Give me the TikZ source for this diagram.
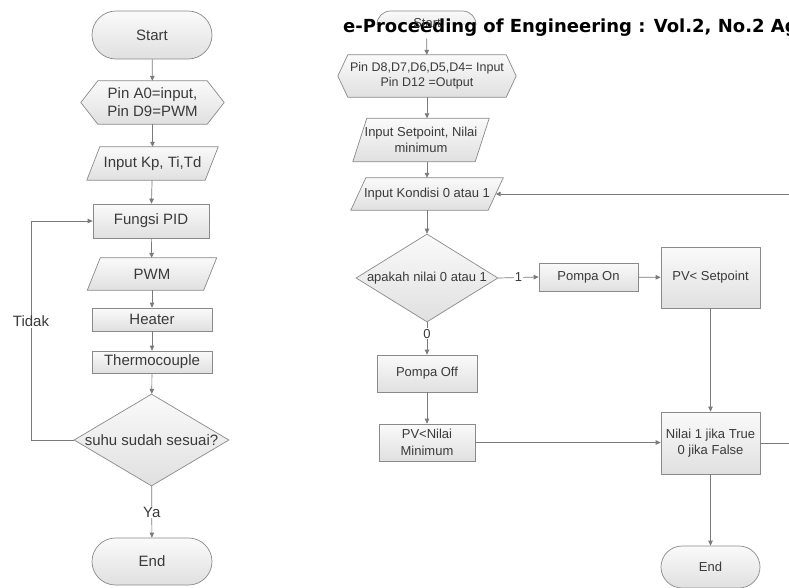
\documentclass[tikz,border=0pt]{standalone}
\usepackage{fontspec}
\setmainfont{Liberation Sans}
\newfontfamily\hdrfont{DejaVu Sans}
\usetikzlibrary{shapes.misc,shapes.geometric,arrows.meta,backgrounds,calc}
\definecolor{bord}{HTML}{8A8A8A}
\definecolor{lin}{HTML}{7A7A7A}
\definecolor{txt}{HTML}{3A3A3A}
\definecolor{ftop}{HTML}{FAFAFA}
\definecolor{fbot}{HTML}{E0E0E0}
\tikzset{
 bx/.style={draw=bord, line width=0.7pt, top color=ftop, bottom color=fbot, text=txt, align=center, inner sep=0pt},
 ftl/.style={font=\fontsize{15}{18}\selectfont},
 ftr/.style={font=\fontsize{13}{16.5}\selectfont},
 term/.style={bx, rounded rectangle},
 proc/.style={bx, rectangle},
 dia/.style={bx, diamond},
 anch/.style={rectangle, draw=none, inner sep=0pt, text=txt, align=center},
 lbl/.style={text=txt, inner sep=1pt},
 shp/.style={draw=bord, line width=0.7pt, top color=ftop, bottom color=fbot},
 arr/.style={draw=lin, line width=0.7pt, -{Triangle[length=5pt,width=4.5pt]}},
}
\newcommand{\myhex}[2]{\path[shp] (#1.north west) -- (#1.north east) -- ($(#1.east)+(#2,0)$) -- (#1.south east) -- (#1.south west) -- ($(#1.west)-(#2,0)$) -- cycle;}
\newcommand{\mypara}[2]{\path[shp] ($(#1.south west)-(#2/2,0)$) -- ($(#1.north west)+(#2/2,0)$) -- ($(#1.north east)+(#2/2,0)$) -- ($(#1.south east)-(#2/2,0)$) -- cycle;}
\begin{document}
\begin{tikzpicture}[x=1pt,y=-1pt]
\useasboundingbox (0,0) rectangle (789,587);
% ---------- left flowchart ----------
\node[term, ftl, minimum width=120pt, minimum height=48pt] (s1) at (152,35) {Start};
\node[anch, ftl, minimum width=109pt, minimum height=43pt] (h1) at (152.5,102.5) {Pin A0=input,\\Pin D9=PWM};
\node[anch, ftl, minimum width=118pt, minimum height=33pt] (kp) at (152.5,163.5) {Input Kp, Ti,Td};
\node[proc, ftl, minimum width=116pt, minimum height=34pt] (pid) at (151,221) {Fungsi PID};
\node[anch, ftl, minimum width=116pt, minimum height=32pt] (pwm) at (152,274) {PWM};
\node[proc, ftl, minimum width=120pt, minimum height=23pt] (heat) at (152,319.5) {Heater};
\node[proc, ftl, minimum width=120pt, minimum height=22pt] (thermo) at (152,362) {Thermocouple};
\node[dia, minimum width=155pt, minimum height=92pt] (d1) at (151.5,440) {};
\node[anch, ftl] (d1t) at (d1) {suhu sudah sesuai?};
\node[term, ftl, minimum width=120pt, minimum height=47pt] (e1) at (152,561.5) {End};
\draw[arr] (s1) -- (h1);
\draw[arr] (h1) -- (kp);
\draw[arr] (kp) -- (pid);
\draw[arr] (pid) -- (pwm);
\draw[arr] (pwm) -- (heat);
\draw[arr] (heat) -- (thermo);
\draw[arr] (thermo) -- (d1);
\draw[arr] (d1) -- node[lbl, ftl, fill=white] (ya) {Ya} (e1);
\draw[arr] (d1.west) -- ++(-42,0) |- (pid.west);
\node[lbl, ftl, fill=white] (tidak) at (31,321) {Tidak};
% ---------- right flowchart ----------
\node[term, minimum width=99pt, minimum height=27pt] (s2) at (426.5,24.5) {};
\node[anchor=base west, inner sep=0pt, fill=white, text height=8pt, text depth=6.5pt, font=\hdrfont\bfseries\fontsize{18}{20}\selectfont] (hdr) at (343,32.5) {e-Proceeding of Engineering : Vol.2, No.2 Ag};
\node[anch, ftr] (s2t) at (427,23) {Start};
\node[anch, ftr, minimum width=158pt, minimum height=42pt, font=\fontsize{12.5}{14.5}\selectfont] (h2) at (427,76) {Pin D8,D7,D6,D5,D4= Input\\Pin D12 =Output};
\node[anch, ftr, minimum width=122pt, minimum height=43pt] (p2) at (421,140) {Input Setpoint, Nilai\\minimum};
\node[anch, ftr, minimum width=137pt, minimum height=32pt] (p3) at (427,194) {Input Kondisi 0 atau 1};
\node[dia, minimum width=142pt, minimum height=88pt] (d2) at (427,278) {};
\node[anch, ftr] (d2t) at (d2) {apakah nilai 0 atau 1};
\node[proc, ftr, minimum width=99pt, minimum height=28pt] (pon) at (588.5,277) {Pompa On};
\node[proc, ftr, minimum width=99pt, minimum height=61pt] (pvs) at (710.5,277.5) {PV< Setpoint};
\node[proc, ftr, minimum width=100pt, minimum height=37pt] (poff) at (427,373.5) {Pompa Off};
\node[proc, ftr, minimum width=96pt, minimum height=37pt] (pvn) at (427,442.5) {PV<Nilai\\Minimum};
\node[proc, ftr, minimum width=99pt, minimum height=62pt] (nil) at (710.5,443) {Nilai 1 jika True\\0 jika False};
\node[term, ftr, minimum width=99pt, minimum height=42pt] (e2) at (710.5,567) {End};
\draw[arr] (s2) -- (h2);
\draw[arr] (h2.south) -- (h2.south |- p2.north);
\draw[arr] (h2.south |- p2.south) -- (p3.north);
\draw[arr] (p3) -- (d2);
\draw[arr] (d2.east) -- node[lbl, ftr, fill=white] (one) {1} (pon.west);
\draw[arr] (pon) -- (pvs);
\draw[arr] (pvs) -- (nil);
\draw[arr] (d2.south) -- node[lbl, ftr, fill=white, pos=0.35] (zero) {0} (poff.north);
\draw[arr] (poff) -- (pvn);
\draw[arr] (pvn.east) -- (pvn.east -| nil.west);
\draw[arr] (nil) -- (e2);
\draw[arr] (nil.east) -- ++(60,0) |- (p3.east);
% ---------- shapes drawn behind ----------
\begin{scope}[on background layer]
\fill[white] (0,0) rectangle (789,587);
\myhex{h1}{17}
\mypara{kp}{13}
\mypara{pwm}{13}
\myhex{h2}{10}
\mypara{p2}{14}
\mypara{p3}{15}
\end{scope}
\end{tikzpicture}
\end{document}
